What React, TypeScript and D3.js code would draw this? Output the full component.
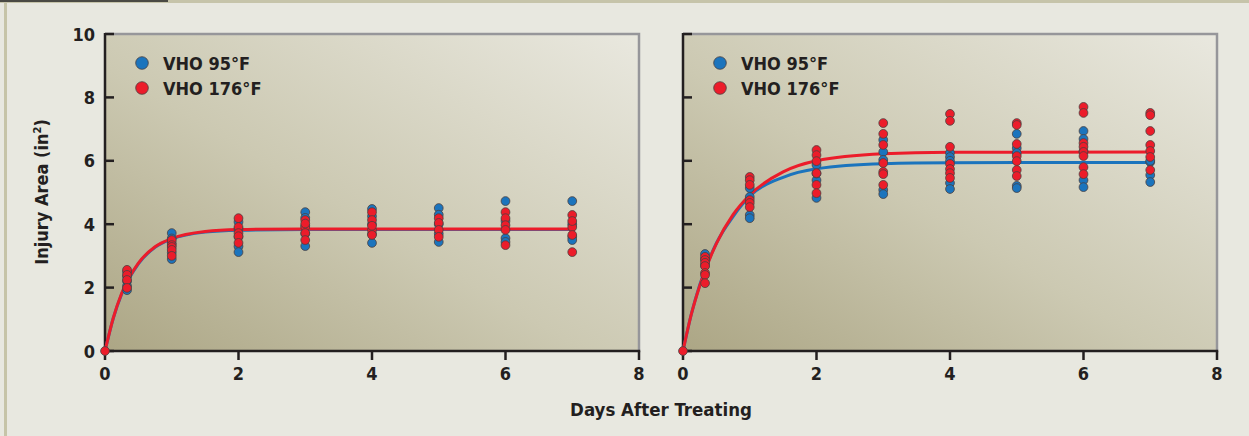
import { useEffect, useRef } from "react";
import * as d3 from "d3";

// days at which injury area was measured
const days = [0.33, 1, 2, 3, 4, 5, 6, 7];

// left panel, measured points per day
const leftBlue = [
	[1.92, 2.05, 2.2, 2.35, 2.5],
	[3.72, 3.55, 3.4, 3.1, 2.9],
	[4.07, 3.85, 3.6, 3.3, 3.12],
	[4.38, 4.2, 3.95, 3.7, 3.31],
	[4.48, 4.25, 4.0, 3.7, 3.41],
	[4.51, 4.3, 4.0, 3.7, 3.44],
	[4.73, 4.1, 3.56, 3.44],
	[4.73, 4.0, 3.6, 3.5],
];
const leftRed = [
	[2.56, 2.4, 2.24, 1.99],
	[3.5, 3.34, 3.28, 3.19, 3.0],
	[4.19, 3.91, 3.72, 3.62, 3.41],
	[4.13, 3.91, 3.72, 3.5, 4.02],
	[4.38, 4.13, 3.82, 3.66, 3.95],
	[4.19, 4.04, 3.82, 3.6],
	[4.38, 4.19, 3.97, 3.82, 3.34],
	[4.29, 3.91, 3.66, 3.12, 4.1],
];

// right panel, measured points per day
const rightBlue = [
	[3.06, 2.9, 2.7],
	[5.14, 4.86, 4.29, 4.19],
	[5.87, 5.39, 4.83, 5.6],
	[6.66, 6.28, 6.03, 5.08, 4.95],
	[6.25, 6.12, 5.3, 5.11, 6.0],
	[6.85, 6.4, 6.25, 5.21, 5.14],
	[6.94, 6.69, 5.39, 5.17, 6.3],
	[5.96, 5.55, 5.33, 6.0],
];
const rightRed = [
	[2.97, 2.87, 2.78, 2.68, 2.46, 2.4, 2.14],
	[5.49, 5.39, 5.24, 4.76, 4.67, 4.54],
	[6.34, 6.18, 5.99, 5.61, 5.24, 4.98],
	[7.19, 6.85, 6.5, 5.93, 5.65, 5.58, 5.24],
	[7.48, 7.26, 6.44, 5.9, 5.74, 5.61, 5.46],
	[7.19, 7.13, 6.53, 6.15, 5.99, 5.71, 5.52],
	[7.7, 7.51, 6.56, 6.44, 6.28, 6.15, 5.8, 5.58],
	[7.51, 7.44, 6.94, 6.5, 6.31, 6.12, 5.71],
];

// fitted curves
const curveDays = [0, 0.125, 0.25, 0.5, 0.75, 1, 1.5, 2, 3, 4, 7];
const leftBlueCurve = [0, 1.04, 1.8, 2.75, 3.27, 3.53, 3.75, 3.81, 3.83, 3.83, 3.83];
const leftRedCurve = [0, 1.05, 1.82, 2.77, 3.29, 3.55, 3.77, 3.83, 3.85, 3.85, 3.85];
const rightBlueCurve = [0, 1.16, 2.08, 3.4, 4.24, 4.88, 5.48, 5.75, 5.91, 5.94, 5.95];
const rightRedCurve = [0, 1.16, 2.05, 3.39, 4.3, 4.92, 5.65, 6.0, 6.22, 6.27, 6.28];

const xTicks = [0, 2, 4, 6, 8];
const yTicks = [0, 2, 4, 6, 8, 10];
const seriesNames = ["VHO 95°F", "VHO 176°F"];

const BLUE = "#1b74bd";
const RED = "#ec1c2a";
const INK = "#231f20";
const FONT = "'DejaVu Sans Condensed', 'DejaVu Sans', sans-serif";

function App() {
	const ref = useRef<SVGSVGElement>(null);

	useEffect(() => {
		document.body.style.margin = "0";
		const svg = d3.select(ref.current);
		svg.selectAll("*").remove();

		const W = 1249;
		const H = 436;

		// page background and frame strips
		svg.append("rect").attr("width", W).attr("height", H).attr("fill", "#e8e8e0");
		svg.append("rect").attr("x", 0).attr("y", 0).attr("width", W).attr("height", 3).attr("fill", "#c6c4aa");
		svg.append("rect").attr("x", 0).attr("y", 0).attr("width", 168).attr("height", 2).attr("fill", "#4a4a44");
		svg.append("rect").attr("x", 4).attr("y", 3).attr("width", 3).attr("height", H).attr("fill", "#c6c4a8");

		const defs = svg.append("defs");
		const grad = defs
			.append("linearGradient")
			.attr("id", "panelBg")
			.attr("x1", 0)
			.attr("y1", 1)
			.attr("x2", 1)
			.attr("y2", 0);
		grad.append("stop").attr("offset", 0).attr("stop-color", "#aca685");
		grad.append("stop").attr("offset", 0.45).attr("stop-color", "#ccc9b2");
		grad.append("stop").attr("offset", 1).attr("stop-color", "#e9e8df");

		const y = d3.scaleLinear().domain([0, 10]).range([351, 34]);

		const panels = [
			{ x0: 105, blue: leftBlue, red: leftRed, bc: leftBlueCurve, rc: leftRedCurve, labels: true },
			{ x0: 683, blue: rightBlue, red: rightRed, bc: rightBlueCurve, rc: rightRedCurve, labels: false },
		];

		panels.forEach((p) => {
			const x = d3.scaleLinear().domain([0, 8]).range([p.x0, p.x0 + 534]);
			const g = svg.append("g");

			g.append("rect")
				.attr("x", x(0))
				.attr("y", y(10))
				.attr("width", x(8) - x(0))
				.attr("height", y(0) - y(10))
				.attr("fill", "url(#panelBg)");

			// grey top and right borders
			g.append("path")
				.attr("d", `M${x(0)},${y(10)}H${x(8)}V${y(0)}`)
				.attr("fill", "none")
				.attr("stroke", "#96969a")
				.attr("stroke-width", 2.5);

			// axes
			g.append("line")
				.attr("x1", x(0))
				.attr("x2", x(0))
				.attr("y1", y(10) - 1)
				.attr("y2", y(0) + 1.5)
				.attr("stroke", INK)
				.attr("stroke-width", 2.5);
			g.append("line")
				.attr("x1", x(0))
				.attr("x2", x(8) + 1.2)
				.attr("y1", y(0))
				.attr("y2", y(0))
				.attr("stroke", INK)
				.attr("stroke-width", 2.5);

			yTicks.forEach((t) => {
				g.append("line")
					.attr("x1", x(0))
					.attr("x2", x(0) + 9)
					.attr("y1", y(t))
					.attr("y2", y(t))
					.attr("stroke", INK)
					.attr("stroke-width", 2.5);
				if (p.labels) {
					g.append("text")
						.attr("x", x(0) - 10)
						.attr("y", y(t) + 6.5)
						.attr("text-anchor", "end")
						.attr("font-family", FONT)
						.attr("font-weight", 700)
						.attr("font-size", 18)
						.attr("fill", INK)
						.text(t);
				}
			});

			xTicks.forEach((t) => {
				g.append("line")
					.attr("x1", x(t))
					.attr("x2", x(t))
					.attr("y1", y(0))
					.attr("y2", y(0) + 9)
					.attr("stroke", INK)
					.attr("stroke-width", 2.5);
				g.append("text")
					.attr("x", x(t))
					.attr("y", 380)
					.attr("text-anchor", "middle")
					.attr("font-family", FONT)
					.attr("font-weight", 700)
					.attr("font-size", 18)
					.attr("fill", INK)
					.text(t);
			});

			// fitted curves
			const line = d3
				.line<number>()
				.x((_, i) => x(curveDays[i]))
				.y((d) => y(d))
				.curve(d3.curveMonotoneX);
			g.append("path")
				.attr("d", line(p.bc))
				.attr("fill", "none")
				.attr("stroke", BLUE)
				.attr("stroke-width", 3);
			g.append("path")
				.attr("d", line(p.rc))
				.attr("fill", "none")
				.attr("stroke", RED)
				.attr("stroke-width", 3);

			// points
			const flat = (arr: number[][]) =>
				arr.flatMap((vals, i) => vals.map((v) => ({ d: days[i], v })));
			[
				{ data: flat(p.blue), color: BLUE },
				{ data: flat(p.red).concat([{ d: 0, v: 0 }]), color: RED },
			].forEach((s) => {
				g.selectAll(null)
					.data(s.data)
					.enter()
					.append("circle")
					.attr("cx", (d) => x(d.d))
					.attr("cy", (d) => y(d.v))
					.attr("r", 4.4)
					.attr("fill", s.color)
					.attr("stroke", "#4a4040")
					.attr("stroke-width", 0.8);
			});

			// legend
			seriesNames.forEach((name, i) => {
				const ly = 63 + i * 25;
				g.append("circle")
					.attr("cx", x(0) + 37)
					.attr("cy", ly)
					.attr("r", 6.3)
					.attr("fill", i === 0 ? BLUE : RED)
					.attr("stroke", "#4a4040")
					.attr("stroke-width", 0.8);
				g.append("text")
					.attr("x", x(0) + 58)
					.attr("y", ly + 6.5)
					.attr("font-family", FONT)
					.attr("font-weight", 700)
					.attr("font-size", 18)
					.attr("fill", INK)
					.text(name);
			});
		});

		// axis titles
		const yl = svg.append("text")
			.attr("transform", "translate(48,192) rotate(-90)")
			.attr("text-anchor", "middle")
			.attr("font-family", FONT)
			.attr("font-weight", 700)
			.attr("font-size", 18)
			.attr("fill", INK);
		yl.append("tspan").text("Injury Area (in");
		yl.append("tspan").attr("font-size", 11).attr("dy", -7).text("2");
		yl.append("tspan").attr("dy", 7).text(")");

		svg.append("text")
			.attr("x", 661)
			.attr("y", 416)
			.attr("text-anchor", "middle")
			.attr("font-family", FONT)
			.attr("font-weight", 700)
			.attr("font-size", 18.5)
			.attr("fill", INK)
			.text("Days After Treating");
	}, []);

	return <svg ref={ref} width={1249} height={436} style={{ display: "block" }} />;
}

export default App;
